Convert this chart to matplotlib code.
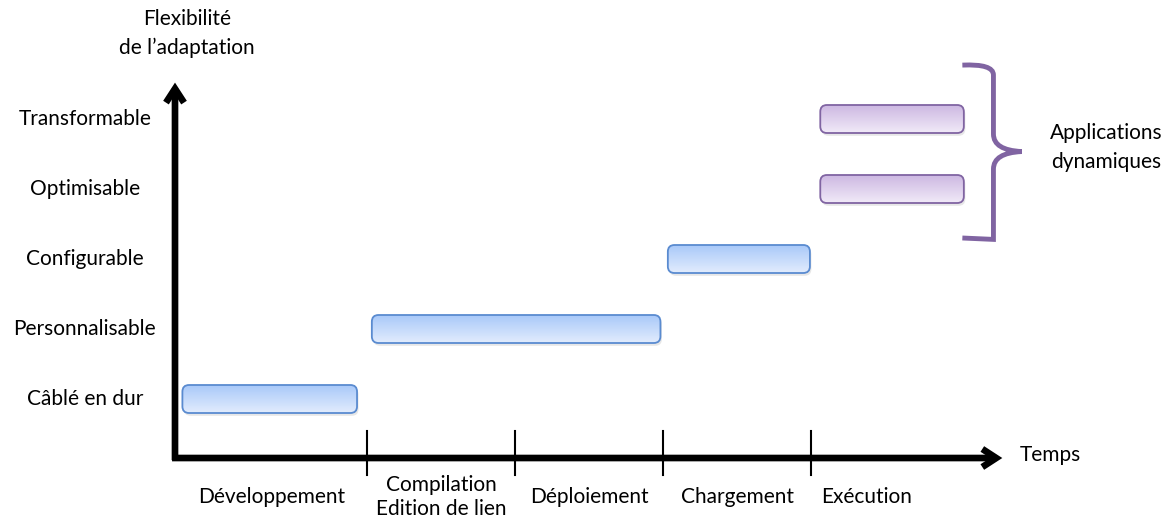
import numpy as np
import matplotlib.pyplot as plt
from matplotlib.patches import FancyBboxPatch, PathPatch
from matplotlib.path import Path
from matplotlib.colors import LinearSegmentedColormap

plt.rcParams['font.family'] = ['Lato', 'DejaVu Sans']

# niveaux de flexibilité (axe vertical) et phases (axe horizontal)
levels = ['Câblé en dur', 'Personnalisable', 'Configurable', 'Optimisable', 'Transformable']
phases = ['Développement', 'Compilation\nEdition de lien', 'Déploiement', 'Chargement', 'Exécution']
phase_bounds = [0, 1.3, 2.3, 3.3, 4.3, 5.05]
bar_start = [0.05, 1.33, 3.33, 4.36, 4.36]
bar_end = [1.23, 3.28, 4.29, 5.33, 5.33]
dynamic = [False, False, False, True, True]

PX_X, PX_Y = 148, 70          # pixels par unité
W, H = 1166, 520
X0, Y0 = 175, 469             # pixel de u=0, v=0
FS = 15
fig = plt.figure(figsize=(W / 100, H / 100), dpi=100)
ax = fig.add_axes([0, 0, 1, 1])
ax.axis('off')
asp = PX_X / PX_Y
y_axis = 0.157

# axes fléchés
arr = dict(arrowstyle='->,head_length=1.0,head_width=0.65', lw=4.8, color='black',
           shrinkA=0, shrinkB=0, capstyle='butt', joinstyle='miter')
ax.annotate('', xy=(0, 5.52), xytext=(0, y_axis - 0.03), arrowprops=arr)
ax.annotate('', xy=(5.59, y_axis), xytext=(-0.02, y_axis), arrowprops=arr)
ax.text(5.71, y_axis + 0.05, 'Temps', fontsize=FS, va='center', ha='left')
ax.text(0.08, 6.22, 'Flexibilité\nde l\u2019adaptation', fontsize=FS, ha='center', va='center',
        linespacing=1.55)

# séparateurs de phases + libellés
for b in phase_bounds[1:-1]:
    ax.plot([b, b], [y_axis - 0.24, y_axis + 0.38], color='black', lw=1.5)
for i, p in enumerate(phases):
    ax.text((phase_bounds[i] + phase_bounds[i + 1]) / 2, -0.40, p, fontsize=FS,
            ha='center', va='center', linespacing=1.25)

for i, lab in enumerate(levels):
    ax.text(-0.61, i + 1, lab, fontsize=FS, ha='center', va='center')

# barres arrondies avec dégradé
for i in range(len(levels)):
    y, h = i + 1, 0.4
    if dynamic[i]:
        c_top, c_bot, edge = '#f1eaf8', '#cdb8e2', '#8064a2'
    else:
        c_top, c_bot, edge = '#e2ecfd', '#a9c9f9', '#5a8bd0'
    x0, x1 = bar_start[i], bar_end[i]
    sh = FancyBboxPatch((x0 + 0.01, y - h / 2 - 0.04), x1 - x0, h,
                        boxstyle='round,pad=0,rounding_size=0.045', mutation_aspect=asp,
                        fc='#bbbbbb', ec='none', alpha=0.35, zorder=2)
    ax.add_patch(sh)
    p = FancyBboxPatch((x0, y - h / 2), x1 - x0, h,
                       boxstyle='round,pad=0,rounding_size=0.045', mutation_aspect=asp,
                       fc='none', ec=edge, lw=1.3, zorder=4)
    ax.add_patch(p)
    grad = np.linspace(0, 1, 64).reshape(-1, 1)
    cm = LinearSegmentedColormap.from_list('g', [c_top, c_bot])
    im = ax.imshow(grad, cmap=cm, extent=(x0, x1, y + h / 2, y - h / 2), aspect='auto',
                   zorder=3, interpolation='bilinear')
    im.set_clip_path(p)

ax.set_xlim(-X0 / PX_X, (W - X0) / PX_X)
ax.set_ylim((Y0 - H) / PX_Y, Y0 / PX_Y)

# accolade violette
xl, xm, xt = 5.32, 5.53, 5.72
yt, yb = 5.77, 3.30
ym = (yt + yb) / 2
verts = [(xl, yt), (xm, yt + 0.02), (xm, yt - 0.14), (xm, yt - 0.25),
         (xm, ym + 0.25), (xm, ym + 0.02), (xt, ym),
         (xm, ym - 0.02), (xm, ym - 0.25),
         (xm, yb + 0.25), (xm, yb + 0.14), (xm, yb - 0.02), (xl, yb)]
codes = [Path.MOVETO, Path.CURVE3, Path.CURVE3, Path.LINETO,
         Path.LINETO, Path.CURVE3, Path.CURVE3,
         Path.CURVE3, Path.CURVE3,
         Path.LINETO, Path.CURVE3, Path.CURVE3, Path.LINETO]
ax.add_patch(PathPatch(Path(verts, codes), fc='none', ec='#8064a2', lw=3.5,
                       capstyle='butt', zorder=4))
ax.text(6.29, ym + 0.06, 'Applications\ndynamiques', fontsize=FS,
        ha='center', va='center', linespacing=1.55)

fig.savefig('out.png', dpi=100)
